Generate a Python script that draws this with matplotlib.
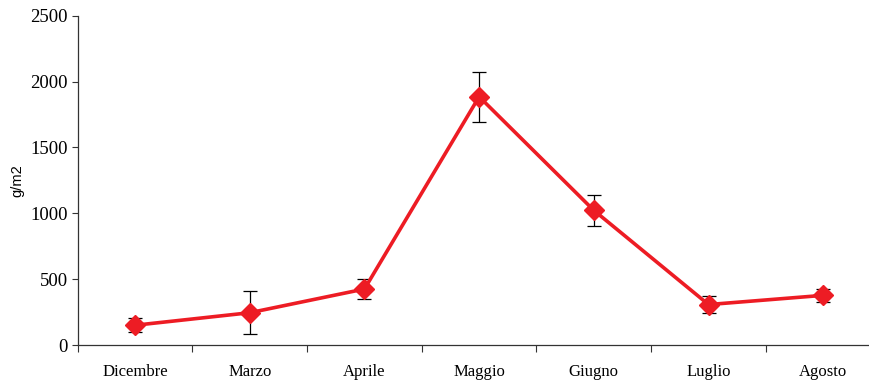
import matplotlib
matplotlib.use("Agg")
import matplotlib.pyplot as plt
import numpy as np

months = ["Dicembre", "Marzo", "Aprile", "Maggio", "Giugno", "Luglio", "Agosto"]
values = [150, 245, 425, 1885, 1022, 307, 377]
errors = [55, 163, 78, 190, 119, 62, 48]
yticks = [0, 500, 1000, 1500, 2000, 2500]

W, H = 870, 381
fig = plt.figure(figsize=(W/100, H/100), dpi=100)
left, right, top, bottom = 77.7, 880.6, 15.7, 345.0
ax = fig.add_axes([left/W, 1-bottom/H, (right-left)/W, (bottom-top)/H])

x = np.arange(len(months))
ax.errorbar(x, values, yerr=errors, fmt='none', ecolor='black', elinewidth=0.9,
            capsize=5, capthick=0.9, zorder=2)
ax.plot(x, values, color='#ED1C24', linewidth=2.6, marker='D', markersize=10,
        markerfacecolor='#ED1C24', markeredgecolor='#ED1C24', zorder=3)

ax.set_xlim(-0.5, len(months)-0.5)
ax.set_ylim(0, 2500)
ax.set_yticks(yticks)
ax.set_yticklabels([str(v) for v in yticks], fontfamily='Liberation Serif', fontsize=13.5)
ax.set_xticks(np.arange(len(months)+1)-0.5)
ax.set_xticklabels([])
ax.set_xticks(x, minor=True)
ax.set_xticklabels(months, minor=True, fontfamily='Liberation Serif', fontsize=12)
ax.tick_params(axis='x', which='major', direction='out', length=5, width=0.8, color='#333333')
ax.tick_params(axis='x', which='minor', length=0, pad=14)
ax.tick_params(axis='y', direction='out', length=4, width=0.8, color='#333333', pad=3)

for s in ['top', 'right']:
    ax.spines[s].set_visible(False)
for s in ['left', 'bottom']:
    ax.spines[s].set_linewidth(0.9)
    ax.spines[s].set_color('#333333')

fig.text(17/W, 1-181/H, "g/m2", rotation=90, ha='center', va='center',
         fontfamily='Liberation Sans', fontsize=10.5)

fig.savefig("out.png", dpi=100)
